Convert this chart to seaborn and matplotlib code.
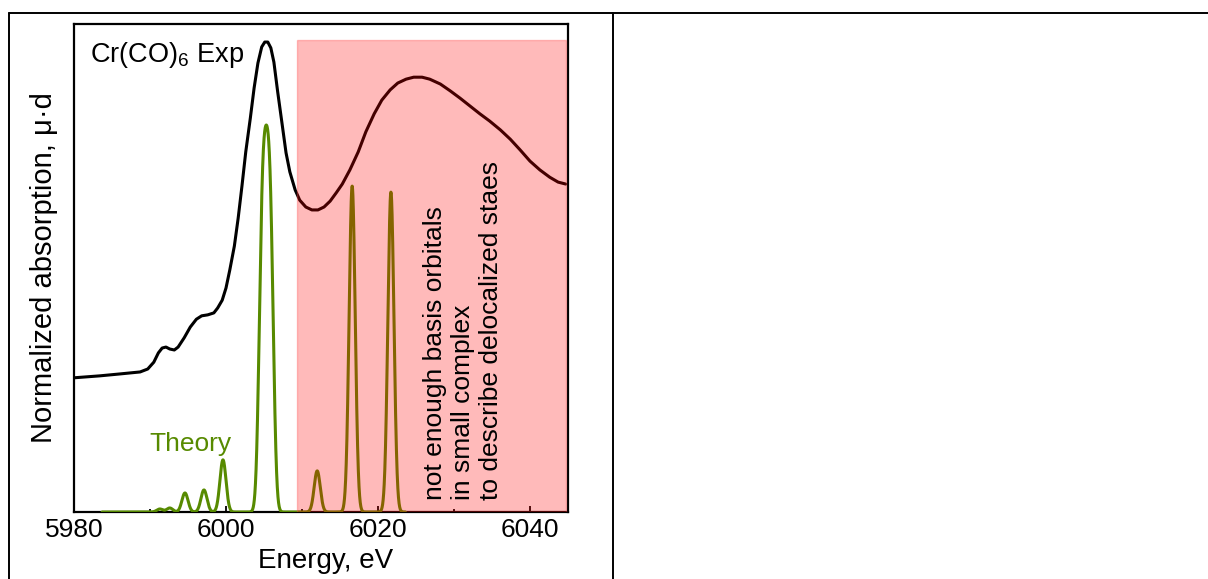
import numpy as np
import matplotlib
matplotlib.use("Agg")
import matplotlib.pyplot as plt
from matplotlib.ticker import MultipleLocator
from matplotlib.lines import Line2D
import seaborn as sns

# ---------------- data ----------------
# Experimental Cr(CO)6 spectrum: energy (eV) and normalized absorption (arb. units, 0-100)
exp_energy = [5980.0, 5983.4, 5986.1, 5988.7, 5989.7, 5990.5, 5991.1, 5991.6, 5992.1, 5992.6,
              5993.2, 5993.7, 5994.5, 5995.3, 5996.1, 5996.8, 5997.6, 5998.4, 5998.9, 5999.5,
              6000.0, 6000.5, 6001.1, 6001.6, 6002.1, 6002.6, 6003.2, 6003.7, 6004.2, 6004.7,
              6005.1, 6005.5, 6005.9, 6006.3, 6006.8, 6007.4, 6007.9, 6008.4, 6009.1, 6009.7,
              6010.5, 6011.3, 6012.1, 6012.9, 6013.7, 6014.5, 6015.3, 6016.3, 6017.4, 6018.4,
              6019.5, 6020.5, 6021.6, 6022.6, 6023.7, 6024.7, 6025.8, 6026.8, 6028.2, 6029.5,
              6030.8, 6032.1, 6033.4, 6034.7, 6036.1, 6037.4, 6038.7, 6040.0, 6041.3, 6042.6,
              6043.7, 6044.7]
exp_absorption = [27.5, 27.9, 28.3, 28.7, 29.3, 30.7, 32.6, 33.6, 33.8, 33.4,
                  33.2, 33.8, 35.7, 37.9, 39.5, 40.2, 40.4, 40.8, 41.8, 43.4,
                  45.9, 49.6, 54.5, 60.2, 66.8, 73.8, 80.7, 86.9, 92.0, 95.3,
                  96.3, 96.3, 95.1, 92.2, 86.1, 79.3, 73.6, 69.7, 66.0, 63.9,
                  62.5, 61.9, 61.9, 62.5, 63.7, 65.4, 67.2, 70.1, 73.8, 77.9,
                  81.6, 84.4, 86.5, 87.9, 88.7, 89.1, 89.1, 88.7, 87.7, 86.3,
                  84.8, 83.2, 81.6, 80.1, 78.3, 76.4, 74.2, 71.9, 70.1, 68.6,
                  67.6, 67.2]

# Theory: calculated transitions (stick energies, eV) and their relative intensities
theory_energy = [5991.3, 5992.6, 5994.6, 5997.1, 5999.6, 6004.7, 6005.3, 6005.9,
                 6012.0, 6016.6, 6021.7]
theory_intensity = [3, 4, 19, 22, 52, 234, 234, 234, 41, 325, 319]
theory_range = (5983.7, 6023.6)

x_ticks = [5980, 6000, 6020, 6040]
highlight_range = (6009.3, 6044.7)

# ---------------- style ----------------
sns.set_style("white")
plt.rcParams["font.family"] = ["Liberation Sans", "DejaVu Sans"]
plt.rcParams["mathtext.default"] = "regular"
plt.rcParams["text.color"] = "black"
plt.rcParams["axes.labelcolor"] = "black"
plt.rcParams["xtick.color"] = "black"
plt.rcParams["ytick.color"] = "black"

W, H = 1208, 579
fig = plt.figure(figsize=(W / 100, H / 100), dpi=100)
fig.patch.set_facecolor("white")


def fx(px):
    return px / W


def fy(py):
    return 1 - py / H


# table-like borders of the slide
for line in [
    Line2D([fx(9), fx(1208)], [fy(13), fy(13)]),
    Line2D([fx(9), fx(9)], [fy(13), fy(579)]),
    Line2D([fx(613), fx(613)], [fy(13), fy(579)]),
]:
    line.set_color("black")
    line.set_linewidth(1.4)
    line.set_transform(fig.transFigure)
    fig.add_artist(line)

ax = fig.add_axes([fx(74), fy(512), fx(568) - fx(74), fy(24) - fy(512)])
ax.set_facecolor("white")

GREEN = "#578A00"

sns.lineplot(x=exp_energy, y=exp_absorption, ax=ax, color="black", linewidth=2.2,
             sort=False, zorder=3)

ax.set_xlim(5980, 6045)
ax.set_ylim(0, 100)
ax.set_yticks([])
ax.set_xticks(x_ticks)
ax.xaxis.set_minor_locator(MultipleLocator(10))
ax.tick_params(axis="x", which="major", direction="in", length=4.5, width=1.3,
               labelsize=19, pad=4.0, bottom=True, top=False, color="black",
               labelcolor="black")
ax.tick_params(axis="x", which="minor", direction="in", length=2.2, width=1.3,
               bottom=True, top=False, color="black")
for sp in ax.spines.values():
    sp.set_visible(True)
    sp.set_color("black")
    sp.set_linewidth(1.6)

ax.set_xlabel("Energy, eV", fontsize=20)
ax.xaxis.set_label_coords(0.51, -0.074)
ax.xaxis.label.set_va("top")
ax.set_ylabel("Normalized absorption, \u03bc\u00b7d", fontsize=21)
ax.yaxis.set_label_coords(-0.032, 0.5)

ax.text(5982.1, 93.6, "Cr(CO)$_6$ Exp", fontsize=19.5, ha="left", va="center", color="black")
ax.text(5989.9, 14.0, "Theory", fontsize=19, ha="left", va="center", color=GREEN)

# theory spectrum: Gaussian-broadened sticks via seaborn's weighted KDE on a twin axis
ax2 = ax.twinx()
te = np.asarray(theory_energy, dtype=float)
ti = np.asarray(theory_intensity, dtype=float)
target_sigma = 0.40
data_std = float(np.sqrt(np.cov(te, aweights=ti)))
sns.kdeplot(x=te, weights=ti, ax=ax2, bw_method=target_sigma / data_std, cut=60,
            clip=theory_range, gridsize=4000, color=GREEN, linewidth=2.2)
peak = ax2.lines[0].get_ydata().max()
ax2.set_ylim(0, peak / 0.793)
ax2.set_xlim(5980, 6045)
ax2.set_yticks([])
ax2.set_ylabel("")
for sp in ax2.spines.values():
    sp.set_visible(False)

# translucent red overlay over the high-energy region
ax2.axvspan(highlight_range[0], highlight_range[1], ymin=0, ymax=0.967,
            facecolor=(1.0, 0.0, 0.0, 0.27), edgecolor=(1.0, 0.3, 0.3, 0.35),
            linewidth=1.0, zorder=10)

ax2.text(6031.2, 0.025,
         "not enough basis orbitals\nin small complex\nto describe delocalized staes",
         transform=ax2.get_xaxis_transform(),
         fontsize=19, rotation=90, ha="center", va="bottom", multialignment="left",
         linespacing=1.2, color="black", zorder=11)

fig.savefig("out.png", dpi=100, facecolor="white")
